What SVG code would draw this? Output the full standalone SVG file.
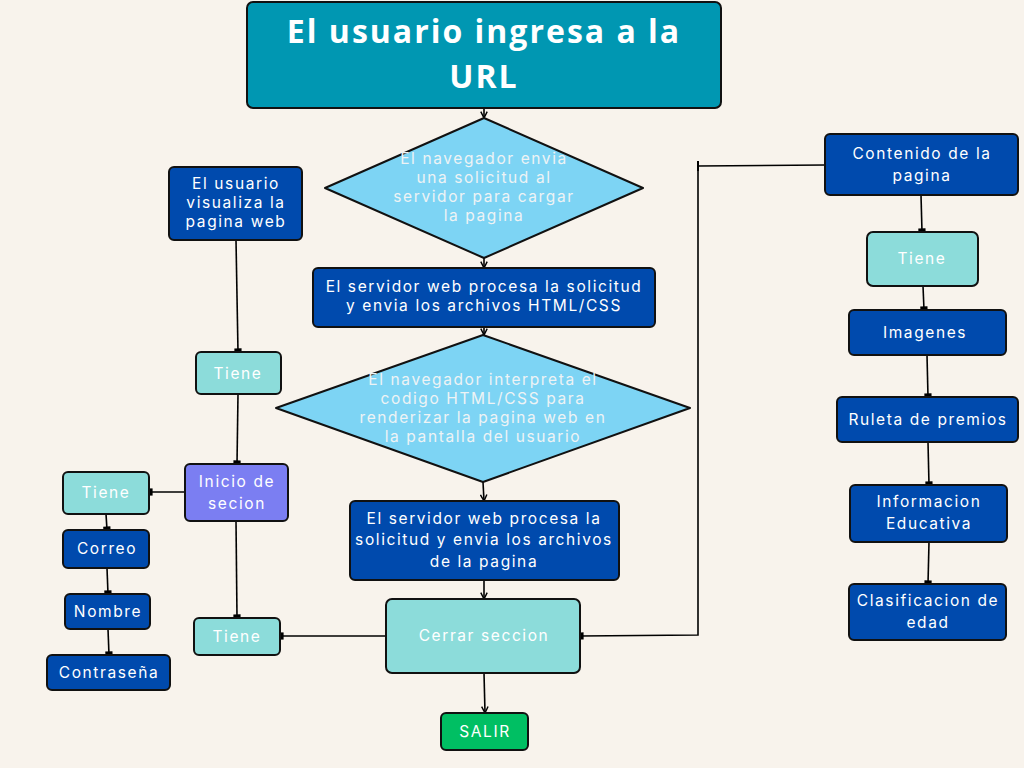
<svg xmlns="http://www.w3.org/2000/svg" width="1024" height="768" viewBox="0 0 1024 768">
<defs>
<marker id="arr" viewBox="0 0 10 10" refX="9" refY="5" markerWidth="8" markerHeight="8" markerUnits="userSpaceOnUse" orient="auto">
<path d="M1,1 L9,5 L1,9" fill="none" stroke="#000" stroke-width="1.8"/>
</marker>
<marker id="tee" viewBox="0 0 10 10" refX="10" refY="5" markerWidth="9" markerHeight="9" markerUnits="userSpaceOnUse" orient="auto">
<path d="M7.5,1 L7.5,9" stroke="#000" stroke-width="3"/>
</marker>
</defs>
<style>
.bx{stroke:#111;stroke-width:2}
.dk{fill:#004aad}
.lt{fill:#8cdcda}
.dm{fill:#7dd4f4;stroke:#111;stroke-width:2;stroke-linejoin:round}
text{font-family:Inter,"Noto Sans","DejaVu Sans",sans-serif;font-size:15.5px;fill:#fff;text-anchor:middle;letter-spacing:1.6px}
.pale{fill:#eef3f5}
.ttl{font-family:"Open Sans",Inter,sans-serif;font-weight:700;font-size:32px;letter-spacing:2px}
.cn path,.cn line,.cn polyline{fill:none;stroke:#000;stroke-width:1.6}
</style>
<rect width="1024" height="768" fill="#f8f3ec"/>

<g class="cn" id="connectors">
<line x1="484" y1="108" x2="484" y2="118" marker-end="url(#arr)"/>
<line x1="484" y1="258" x2="484" y2="268" marker-end="url(#arr)"/>
<line x1="484" y1="327" x2="484" y2="335" marker-end="url(#arr)"/>
<line x1="483" y1="482" x2="484" y2="501" marker-end="url(#arr)"/>
<line x1="484" y1="580" x2="484" y2="599" marker-end="url(#arr)"/>
<line x1="484" y1="673" x2="485" y2="713" marker-end="url(#arr)"/>
<polyline points="825,165 698,166 698,635 580,636" marker-end="url(#tee)"/>
<path d="M698,161 L698,171" style="stroke-width:2"/>
<line x1="386" y1="636" x2="280" y2="636" marker-end="url(#tee)"/>
<line x1="236" y1="240" x2="238" y2="352" marker-end="url(#tee)"/>
<line x1="238" y1="394" x2="237" y2="464" marker-end="url(#tee)"/>
<line x1="185" y1="492" x2="149" y2="492" marker-end="url(#tee)"/>
<line x1="236" y1="521" x2="237" y2="618" marker-end="url(#tee)"/>
<line x1="106" y1="514" x2="107" y2="530" marker-end="url(#tee)"/>
<line x1="107" y1="568" x2="108" y2="594" marker-end="url(#tee)"/>
<line x1="108" y1="629" x2="109" y2="655" marker-end="url(#tee)"/>
<line x1="921" y1="195" x2="922" y2="232" marker-end="url(#tee)"/>
<line x1="923" y1="286" x2="924" y2="310" marker-end="url(#tee)"/>
<line x1="927" y1="355" x2="928" y2="397" marker-end="url(#tee)"/>
<line x1="928" y1="442" x2="929" y2="485" marker-end="url(#tee)"/>
<line x1="929" y1="542" x2="928" y2="584" marker-end="url(#tee)"/>
</g>

<g id="n-title">
<rect x="247" y="2" width="474" height="106" rx="6" fill="#0097b2" class="bx"/>
<text class="ttl" x="484" y="43">El usuario ingresa a la</text>
<text class="ttl" x="484" y="88">URL</text>
</g>
<g id="n-d1">
<path class="dm" d="M484,118 L643,188 L484,258 L325,188 Z"/>
<text class="pale" x="484" y="164">El navegador envia</text>
<text class="pale" x="484" y="183">una solicitud al</text>
<text class="pale" x="484" y="202">servidor para cargar</text>
<text class="pale" x="484" y="221">la pagina</text>
</g>
<g id="n-b2">
<rect x="313" y="268" width="342" height="59" rx="5" class="bx dk"/>
<text x="484" y="292">El servidor web procesa la solicitud</text>
<text x="484" y="311">y envia los archivos HTML/CSS</text>
</g>
<g id="n-d2">
<path class="dm" d="M483,335 L690,408 L483,482 L276,408 Z"/>
<text class="pale" x="483" y="385">El navegador interpreta el</text>
<text class="pale" x="483" y="404">codigo HTML/CSS para</text>
<text class="pale" x="483" y="423">renderizar la pagina web en</text>
<text class="pale" x="483" y="442">la pantalla del usuario</text>
</g>
<g id="n-b3">
<rect x="350" y="501" width="269" height="79" rx="5" class="bx dk"/>
<text x="484" y="524">El servidor web procesa la</text>
<text x="484" y="545">solicitud y envia los archivos</text>
<text x="484" y="567">de la pagina</text>
</g>
<g id="n-cerrar">
<rect x="386" y="599" width="194" height="74" rx="6" class="bx lt"/>
<text x="484" y="641">Cerrar seccion</text>
</g>
<g id="n-salir">
<rect x="441" y="713" width="87" height="37" rx="5" class="bx" fill="#00bf63"/>
<text x="485" y="737">SALIR</text>
</g>
<g id="n-visualiza">
<rect x="169" y="167" width="133" height="73" rx="5" class="bx dk"/>
<text x="236" y="189">El usuario</text>
<text x="236" y="208">visualiza la</text>
<text x="236" y="227">pagina web</text>
</g>
<g id="n-tiene1">
<rect x="196" y="352" width="85" height="42" rx="5" class="bx lt"/>
<text x="238" y="379">Tiene</text>
</g>
<g id="n-inicio">
<rect x="185" y="464" width="103" height="57" rx="5" class="bx" fill="#7b7ef2"/>
<text x="237" y="487">Inicio de</text>
<text x="237" y="509">secion</text>
</g>
<g id="n-tiene2">
<rect x="63" y="472" width="86" height="42" rx="5" class="bx lt"/>
<text x="106" y="498">Tiene</text>
</g>
<g id="n-correo">
<rect x="63" y="530" width="86" height="38" rx="5" class="bx dk"/>
<text x="107" y="554">Correo</text>
</g>
<g id="n-nombre">
<rect x="65" y="594" width="85" height="35" rx="5" class="bx dk"/>
<text x="108" y="617">Nombre</text>
</g>
<g id="n-contrasena">
<rect x="47" y="655" width="123" height="35" rx="5" class="bx dk"/>
<text x="109" y="678">Contraseña</text>
</g>
<g id="n-tiene3">
<rect x="194" y="618" width="86" height="37" rx="5" class="bx lt"/>
<text x="237" y="642">Tiene</text>
</g>
<g id="n-contenido">
<rect x="825" y="134" width="193" height="61" rx="5" class="bx dk"/>
<text x="922" y="159">Contenido de la</text>
<text x="922" y="181">pagina</text>
</g>
<g id="n-tiene4">
<rect x="867" y="232" width="111" height="54" rx="6" class="bx lt"/>
<text x="922" y="264">Tiene</text>
</g>
<g id="n-imagenes">
<rect x="849" y="310" width="157" height="45" rx="5" class="bx dk"/>
<text x="925" y="338">Imagenes</text>
</g>
<g id="n-ruleta">
<rect x="837" y="397" width="181" height="45" rx="5" class="bx dk"/>
<text x="928" y="425">Ruleta de premios</text>
</g>
<g id="n-info">
<rect x="850" y="485" width="157" height="57" rx="5" class="bx dk"/>
<text x="929" y="507">Informacion</text>
<text x="929" y="529">Educativa</text>
</g>
<g id="n-clasif">
<rect x="849" y="584" width="157" height="56" rx="5" class="bx dk"/>
<text x="928" y="606">Clasificacion de</text>
<text x="928" y="628">edad</text>
</g>
</svg>
